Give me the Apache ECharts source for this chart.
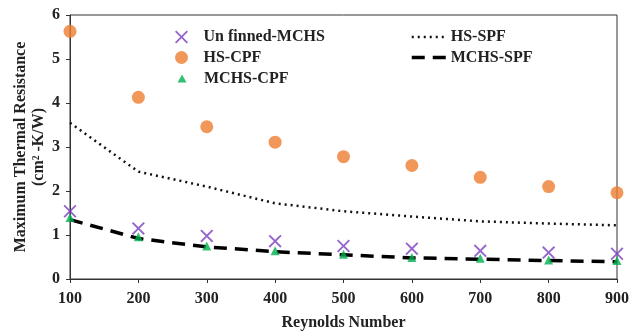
<!DOCTYPE html>
<html><head><meta charset="utf-8">
<script src="https://cdn.jsdelivr.net/npm/echarts@6/dist/echarts.min.js"></script>
<style>html,body{margin:0;padding:0;background:#fff}#c{width:630px;height:333px}</style>
</head><body><div id="c"></div>
<script>
const reynolds = [100, 200, 300, 400, 500, 600, 700, 800, 900];
const unfinnedMCHS = [1.54, 1.15, 0.98, 0.86, 0.75, 0.69, 0.64, 0.60, 0.575];
const hsCPF = [5.63, 4.13, 3.46, 3.11, 2.78, 2.58, 2.31, 2.10, 1.96];
const mchsCPF = [1.40, 0.96, 0.75, 0.64, 0.56, 0.49, 0.47, 0.43, 0.42];
const hsSPF = [3.55, 2.44, 2.10, 1.72, 1.54, 1.42, 1.31, 1.26, 1.22];
const mchsSPF = [1.35, 0.92, 0.73, 0.62, 0.55, 0.48, 0.45, 0.42, 0.39];
const yTicks = [0, 1, 2, 3, 4, 5, 6];

const pair = arr => reynolds.map((r, i) => [r, arr[i]]);
const font = '"Liberation Serif","Times New Roman",serif';
const crossPath = 'path://M0,1L1,0L5,4L9,0L10,1L6,5L10,9L9,10L5,6L1,10L0,9L4,5Z';
const dotted = [2, 4];
const dashed = [13, 8];
const legendText = {fontFamily: font, fontWeight: 'bold', fontSize: 16, color: '#222'};

const chart = echarts.init(document.getElementById('c'), null, {renderer: 'canvas'});
chart.setOption({
  animation: false,
  backgroundColor: '#fff',
  grid: {left: 70, right: 13, top: 15, bottom: 54, show: true, borderColor: '#333', borderWidth: 1,
    containLabel: false, outerBoundsMode: 'none'},
  xAxis: {
    type: 'value', min: 100, max: 900, interval: 100,
    name: 'Reynolds Number', nameLocation: 'middle', nameGap: 36,
    nameTextStyle: {fontFamily: font, fontWeight: 'bold', fontSize: 16, color: '#222'},
    axisLine: {lineStyle: {color: '#333'}},
    axisTick: {show: true, length: 4, lineStyle: {color: '#333'}},
    axisLabel: {fontFamily: font, fontWeight: 'bold', fontSize: 16, color: '#222', margin: 12},
    splitLine: {show: false}
  },
  yAxis: {
    type: 'value', min: 0, max: 6, interval: 1,
    axisLine: {show: true, lineStyle: {color: '#333'}},
    axisTick: {show: true, length: 4, lineStyle: {color: '#333'}},
    axisLabel: {fontFamily: font, fontWeight: 'bold', fontSize: 16, color: '#222', margin: 10,
      formatter: v => yTicks.includes(v) ? String(v) : ''},
    splitLine: {show: false}
  },
  legend: [{
    data: ['Un finned-MCHS', 'HS-CPF'],
    orient: 'vertical', left: 175, top: 29, padding: 0, itemGap: 4.5, itemWidth: 14, itemHeight: 13,
    textStyle: Object.assign({padding: [0, 0, 0, 10]}, legendText)
  }, {
    data: ['MCHS-CPF'],
    orient: 'vertical', left: 177.5, top: 70.5, padding: 0, itemWidth: 9, itemHeight: 8,
    textStyle: Object.assign({padding: [0, 0, 0, 12.5]}, legendText)
  }, {
    data: [
      {name: 'HS-SPF', itemStyle: {opacity: 0}, lineStyle: {type: dotted, width: 2.5, color: '#111'}},
      {name: 'MCHS-SPF', itemStyle: {opacity: 0}, lineStyle: {type: dashed, width: 3.5, color: '#000'}}
    ],
    orient: 'vertical', left: 410, top: 29, padding: 0, itemGap: 4.5, itemWidth: 34, itemHeight: 14,
    textStyle: Object.assign({padding: [0, 0, 0, 0]}, legendText)
  }],
  graphic: [{
    type: 'text', x: 30, y: 147, rotation: Math.PI / 2,
    style: {text: 'Maximum Thermal Resistance\n(cm² -K/W)', font: 'bold 16px ' + font,
      fill: '#222', align: 'center', verticalAlign: 'middle', lineHeight: 18}
  }],
  series: [
    {name: 'HS-SPF', type: 'line', data: pair(hsSPF), symbol: 'none',
      lineStyle: {color: '#111', width: 2.5, type: dotted}, itemStyle: {color: '#111'}, z: 2},
    {name: 'MCHS-SPF', type: 'line', data: pair(mchsSPF), symbol: 'none',
      lineStyle: {color: '#000', width: 3.5, type: dashed}, itemStyle: {color: '#000'}, z: 2},
    {name: 'Un finned-MCHS', type: 'scatter', data: pair(unfinnedMCHS), symbol: crossPath, symbolSize: 13,
      itemStyle: {color: '#7b3fbe'}, z: 4},
    {name: 'HS-CPF', type: 'scatter', data: pair(hsCPF), symbol: 'circle', symbolSize: 13,
      itemStyle: {color: '#ed7d31'}, z: 4},
    {name: 'MCHS-CPF', type: 'scatter', data: pair(mchsCPF), symbol: 'triangle', symbolSize: 9,
      itemStyle: {color: '#00b050'}, z: 5}
  ]
});
</script></body></html>
